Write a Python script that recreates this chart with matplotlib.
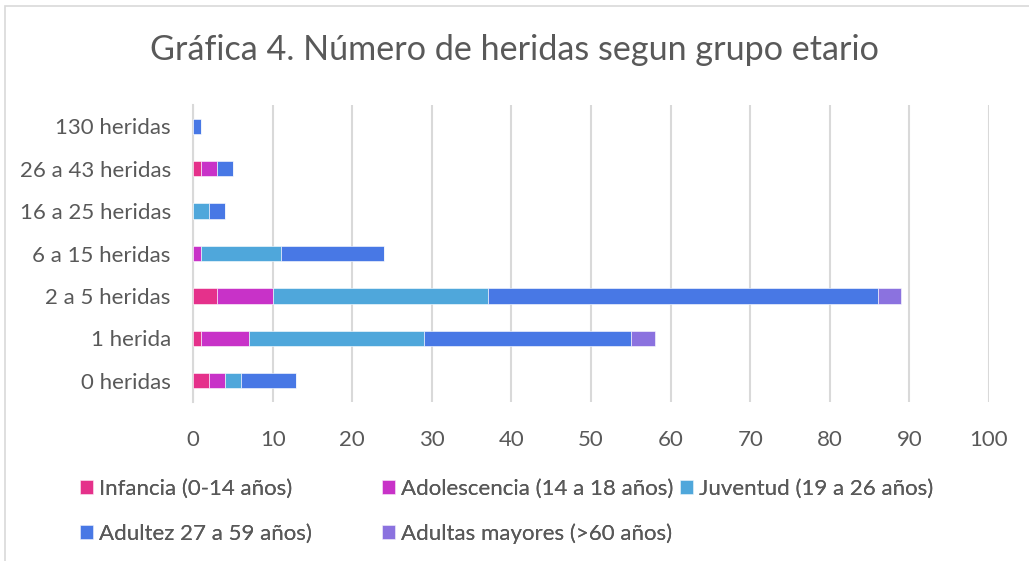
"""Stacked horizontal bars: number of wounds by age group."""
import matplotlib.pyplot as plt
from matplotlib.patches import Rectangle

plt.rcParams["font.family"] = ["Lato", "DejaVu Sans"]

categories = ["0 heridas", "1 herida", "2 a 5 heridas", "6 a 15 heridas",
              "16 a 25 heridas", "26 a 43 heridas", "130 heridas"]
infancia = [2, 1, 3, 0, 0, 1, 0]
adolescencia = [2, 6, 7, 1, 0, 2, 0]
juventud = [2, 22, 27, 10, 2, 0, 0]
adultez = [7, 26, 49, 13, 2, 2, 1]
adultas_mayores = [0, 3, 3, 0, 0, 0, 0]

series = [
    ("Infancia (0-14 años)", infancia, "#E5318B"),
    ("Adolescencia (14 a 18 años)", adolescencia, "#C832C8"),
    ("Juventud (19 a 26 años)", juventud, "#4FA7DB"),
    ("Adultez 27 a 59 años)", adultez, "#4878E5"),
    ("Adultas mayores (>60 años)", adultas_mayores, "#8B72DF"),
]
xticks = list(range(0, 101, 10))

TEXT = "#595959"
GRID = "#D9D9D9"
FS = 16

fig = plt.figure(figsize=(10.29, 5.61), dpi=100)
fig.patches.append(Rectangle((5 / 1029, -0.05), 1.1, 1 - 6 / 561 + 0.05,
                             transform=fig.transFigure, fill=False,
                             edgecolor=GRID, linewidth=1.2))

ax = fig.add_axes([193 / 1029, 1 - 402 / 561, 796 / 1029, 297 / 561])
y = range(len(categories))
left = [0] * len(categories)
handles = []
for label, values, color in series:
    bars = ax.barh(y, values, left=left, height=0.36, color=color, label=label,
                   edgecolor="white", linewidth=0.4, zorder=3)
    handles.append(bars)
    left = [a + b for a, b in zip(left, values)]

ax.set_xlim(0, 100)
ax.set_ylim(-0.5, len(categories) - 0.5)
ax.set_xticks(xticks)
ax.set_yticks(list(y))
ax.set_yticklabels(categories)
ax.tick_params(axis="both", length=0, labelsize=FS, colors=TEXT)
ax.tick_params(axis="x", pad=20)
ax.tick_params(axis="y", pad=16)
ax.grid(axis="x", color=GRID, linewidth=1.5, zorder=0)
for side in ["top", "right", "bottom"]:
    ax.spines[side].set_visible(False)
ax.spines["left"].set_color(GRID)
ax.spines["left"].set_linewidth(1.5)

fig.text(0.5, 1 - 50 / 561, "Gráfica 4. Número de heridas segun grupo etario",
         ha="center", va="center", fontsize=24.6, color=TEXT)

# legend laid out row by row like the original: three columns at fixed x
columns = [([0, 3], 80), ([1, 4], 382), ([2], 680)]
for idx, x0 in columns:
    leg = fig.legend([handles[i] for i in idx], [series[i][0] for i in idx],
                     loc="upper left", bbox_to_anchor=(x0 / 1029, 1 - 479 / 561),
                     frameon=False, fontsize=FS, labelcolor=TEXT,
                     handlelength=0.6, handleheight=0.6, handletextpad=0.25,
                     labelspacing=1.1, borderpad=0, borderaxespad=0)
    fig.add_artist(leg)

fig.savefig("out.png", dpi=100)
